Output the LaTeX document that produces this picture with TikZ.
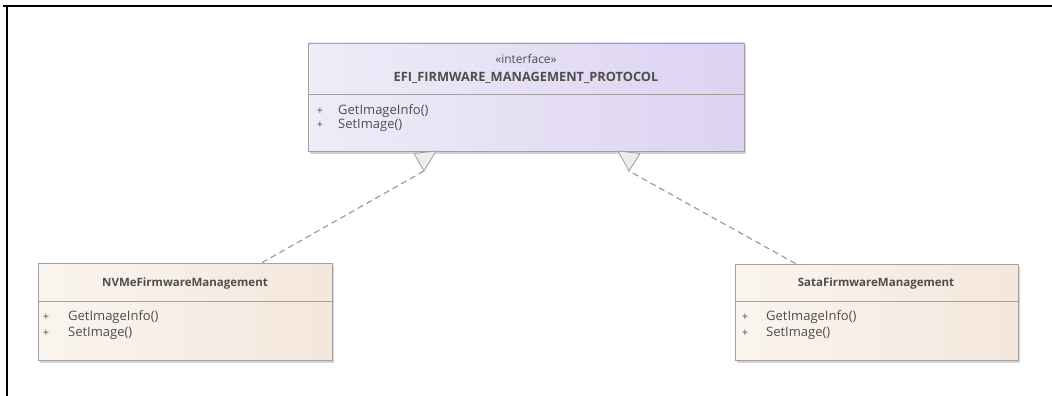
\documentclass[tikz,border=0pt]{standalone}
\usepackage{fontspec}
\setmainfont{Open Sans}
\usetikzlibrary{positioning, shadows}

\definecolor{boxedge}{HTML}{A59FA3}
\definecolor{ifaceleft}{HTML}{EFECF8}
\definecolor{ifaceright}{HTML}{DCD3F1}
\definecolor{implleft}{HTML}{FAF4EF}
\definecolor{implright}{HTML}{F4E7DC}
\definecolor{umltext}{HTML}{4E4E4E}
\definecolor{umlline}{HTML}{9C9C9C}
\definecolor{trifill}{HTML}{EEEDEE}

\begin{document}
\begin{tikzpicture}[
    x=1pt, y=-1pt,
    classbox/.style={rectangle, draw=boxedge, line width=0.8pt, inner sep=0pt,
      drop shadow={shadow xshift=2pt, shadow yshift=-2.5pt, opacity=0.35}},
    ifacebox/.style={classbox, left color=ifaceleft, right color=ifaceright},
    implbox/.style={classbox, left color=implleft, right color=implright},
    stereo/.style={inner sep=0pt, text=umltext, font=\fontsize{12}{14}\selectfont},
    classname/.style={inner sep=0pt, text=umltext, font=\fontsize{11.5}{13}\selectfont\bfseries},
    member/.style={inner sep=0pt, anchor=west, text=umltext, font=\fontsize{13}{15}\selectfont},
    visib/.style={inner sep=0pt, text=umltext, font=\fontsize{11}{13}\selectfont},
    realize/.style={draw=umlline, line width=1.2pt, dash pattern=on 6pt off 4pt},
    realtri/.style={draw=umlline, fill=trifill, line width=0.8pt, line join=round}
  ]
    \useasboundingbox (0,0) rectangle (1052,396);

    % page frame (top and left edges only)
    \draw[line width=2pt] (3,6) -- (1052,6);
    \draw[line width=2pt] (7,6) -- (7,396);

    % interface
    \node[ifacebox, minimum width=436pt, minimum height=108pt] (iface) at (526,97) {};
    \node[stereo] (ifstereo) at (526,59) {«interface»};
    \node[classname, font=\fontsize{12.8}{14}\selectfont\bfseries] (ifname) at (526,78) {EFI\_FIRMWARE\_MANAGEMENT\_PROTOCOL};
    \draw[boxedge, line width=0.8pt] (iface.west |- 0,94) -- (iface.east |- 0,94);
    \node[visib] (ifplusA) at (320,111) {+};
    \node[visib] (ifplusB) at (320,125) {+};
    \node[member] (ifgetinfo) at (338,111) {GetImageInfo()};
    \node[member] (ifsetimg) at (338,125) {SetImage()};

    % NVMe implementation
    \node[implbox, minimum width=294pt, minimum height=97pt] (nvme) at (185,311.5) {};
    \node[classname] (nvmename) at (185,284) {NVMeFirmwareManagement};
    \draw[boxedge, line width=0.8pt] (nvme.west |- 0,301) -- (nvme.east |- 0,301);
    \node[visib] (nvplusA) at (46,317) {+};
    \node[visib] (nvplusB) at (46,333) {+};
    \node[member] (nvgetinfo) at (68,317) {GetImageInfo()};
    \node[member] (nvsetimg) at (68,333) {SetImage()};

    % Sata implementation
    \node[implbox, minimum width=283pt, minimum height=96pt] (sata) at (876.5,312) {};
    \node[classname] (sataname) at (876,284) {SataFirmwareManagement};
    \draw[boxedge, line width=0.8pt] (sata.west |- 0,301) -- (sata.east |- 0,301);
    \node[visib] (saplusA) at (745,317) {+};
    \node[visib] (saplusB) at (745,333) {+};
    \node[member] (sagetinfo) at (766,317) {GetImageInfo()};
    \node[member] (sasetimg) at (766,333) {SetImage()};

    % realization connectors
    \coordinate (nvmeTop) at ([xshift=77pt]nvme.north);
    \coordinate (sataTop) at ([xshift=-81pt]sata.north);
    \coordinate (leftTip) at (424,171);
    \coordinate (rightTip) at (629,171);
    \draw[realize] (nvmeTop) -- (leftTip);
    \draw[realize] (sataTop) -- (rightTip);
    \draw[realtri] (414,153.5) -- (436,151) -- (leftTip) -- cycle;
    \draw[realtri] (618,151) -- (640,153.5) -- (rightTip) -- cycle;
  \end{tikzpicture}
\end{document}
